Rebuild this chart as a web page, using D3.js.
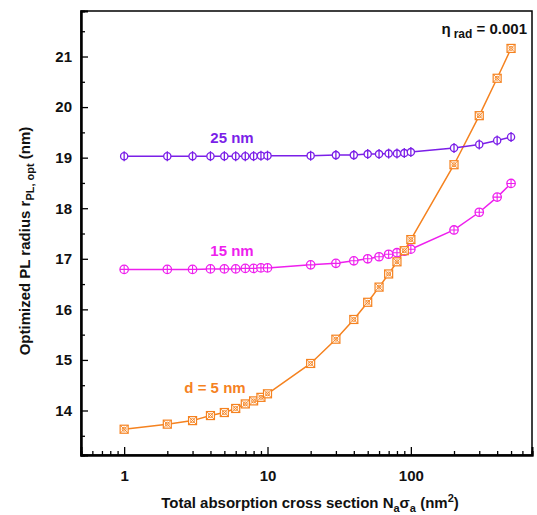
<!DOCTYPE html>
<html><head><meta charset="utf-8">
<script src="https://cdn.jsdelivr.net/npm/d3@7"></script>
<style>
body{margin:0;background:#fff;}
text{font-family:"Liberation Sans",Arial,sans-serif;font-weight:bold;}
</style></head>
<body><svg id="c" width="537" height="515"></svg>
<script>
const xValues = [1,2,3,4,5,6,7,8,9,10,20,30,40,50,60,70,80,90,100,200,300,400,500];
const d5  = [13.63,13.73,13.80,13.90,13.96,14.04,14.13,14.19,14.26,14.33,14.93,15.41,15.80,16.14,16.44,16.70,16.94,17.16,17.38,18.86,19.83,20.57,21.16];
const d15 = [16.79,16.79,16.79,16.80,16.80,16.80,16.81,16.81,16.82,16.82,16.88,16.91,16.96,17.00,17.04,17.09,17.12,17.15,17.19,17.57,17.92,18.22,18.49];
const d25 = [19.03,19.03,19.03,19.03,19.03,19.03,19.03,19.03,19.04,19.04,19.04,19.05,19.05,19.07,19.07,19.08,19.08,19.09,19.11,19.19,19.26,19.34,19.41];
const xMajor = [1,10,100];
const xMinor = [0.6,0.7,0.8,0.9,2,3,4,5,6,7,8,9,20,30,40,50,60,70,80,90,200,300,400,500,600,700];
const yMajor = [14,15,16,17,18,19,20,21];
const yMinor = [13.5,14.5,15.5,16.5,17.5,18.5,19.5,20.5,21.5];

const svg = d3.select("#c");
const L=81, R=532, T=11, B=455;
const x = d3.scaleLog().domain([0.5,700]).range([L,R]);
const y = d3.scaleLinear().domain([13.12,21.9]).range([B,T]);

const cPurple="#7b1fe8", cMag="#ee1fee", cOr="#f5821f";

svg.append("rect").attr("x",L).attr("y",T).attr("width",R-L).attr("height",B-T)
  .attr("fill","none").attr("stroke","#000").attr("stroke-width",1.5);

const gx = svg.append("g").attr("transform",`translate(0,${B})`);
gx.call(d3.axisBottom(x).tickValues(xMajor).tickSize(-8).tickPadding(15).tickFormat(d3.format("d")));
const gx2 = svg.append("g").attr("transform",`translate(0,${B})`);
gx2.call(d3.axisBottom(x).tickValues(xMinor).tickSize(-4).tickFormat(""));
const gy = svg.append("g").attr("transform",`translate(${L},0)`);
gy.call(d3.axisLeft(y).tickValues(yMajor).tickSize(-7).tickPadding(9).tickFormat(d3.format("d")));
const gy2 = svg.append("g").attr("transform",`translate(${L},0)`);
gy2.call(d3.axisLeft(y).tickValues(yMinor).tickSize(-4).tickFormat(""));
svg.selectAll(".domain").attr("stroke","#000").attr("stroke-width",2);
svg.selectAll(".tick line").attr("stroke","#000").attr("stroke-width",1.3);
svg.selectAll(".tick text").attr("font-size",15).attr("font-weight","bold").attr("fill","#111")
  .attr("font-family","Liberation Sans, Arial, sans-serif");

function series(vals,color){
  const pts = xValues.map((xv,i)=>[x(xv),y(vals[i])]);
  svg.append("path").attr("d",d3.line()(pts)).attr("fill","none").attr("stroke",color).attr("stroke-width",1.5);
  return pts;
}
const p5 = series(d5,cOr), p15 = series(d15,cMag), p25 = series(d25,cPurple);

const g25 = svg.append("g");
p25.forEach(([px,py])=>{
  g25.append("circle").attr("cx",px).attr("cy",py).attr("r",3.6).attr("fill","#fff").attr("stroke",cPurple).attr("stroke-width",1.3);
  g25.append("line").attr("x1",px).attr("x2",px).attr("y1",py-5).attr("y2",py+5).attr("stroke",cPurple).attr("stroke-width",1.3);
});
const g15 = svg.append("g");
p15.forEach(([px,py])=>{
  g15.append("circle").attr("cx",px).attr("cy",py).attr("r",4.2).attr("fill","#fff").attr("stroke",cMag).attr("stroke-width",1.3);
  g15.append("path").attr("d",`M${px-4.2},${py}H${px+4.2}M${px},${py-4.2}V${py+4.2}`).attr("stroke",cMag).attr("stroke-width",1.1);
});
const g5 = svg.append("g");
p5.forEach(([px,py])=>{
  const s=4;
  g5.append("rect").attr("x",px-s).attr("y",py-s).attr("width",2*s).attr("height",2*s).attr("fill","#fff").attr("stroke",cOr).attr("stroke-width",1.2);
  g5.append("path").attr("d",`M${px-s},${py-s}L${px+s},${py+s}M${px+s},${py-s}L${px-s},${py+s}`).attr("stroke",cOr).attr("stroke-width",0.9);
  g5.append("circle").attr("cx",px).attr("cy",py).attr("r",2).attr("fill","none").attr("stroke",cOr).attr("stroke-width",0.9);
});

svg.append("text").attr("x",232).attr("y",143).attr("text-anchor","middle").attr("font-size",15).attr("fill",cPurple).text("25 nm");
svg.append("text").attr("x",232).attr("y",256).attr("text-anchor","middle").attr("font-size",15).attr("fill",cMag).text("15 nm");
svg.append("text").attr("x",215).attr("y",393).attr("text-anchor","middle").attr("font-size",15).attr("fill",cOr).text("d = 5 nm");

const et = svg.append("text").attr("x",527).attr("y",34).attr("text-anchor","end").attr("font-size",15).attr("fill","#111");
et.append("tspan").text("η");
et.append("tspan").attr("font-size",12).attr("dy",4).attr("dx",3).text("rad");
et.append("tspan").attr("dy",-4).text(" = 0.001");

const xl = svg.append("text").attr("x",310).attr("y",508).attr("text-anchor","middle").attr("font-size",15).attr("fill","#111");
xl.append("tspan").text("Total absorption cross section N");
xl.append("tspan").attr("font-size",11).attr("dy",4).text("a");
xl.append("tspan").attr("dy",-4).text("σ");
xl.append("tspan").attr("font-size",11).attr("dy",4).text("a");
xl.append("tspan").attr("dy",-4).text(" (nm");
xl.append("tspan").attr("font-size",11).attr("dy",-6).text("2");
xl.append("tspan").attr("dy",6).text(")");

const yl = svg.append("text").attr("transform","translate(30,241) rotate(-90)").attr("text-anchor","middle").attr("font-size",15).attr("fill","#111");
yl.append("tspan").text("Optimized PL radius r");
yl.append("tspan").attr("font-size",11).attr("dy",4).text("PL, opt");
yl.append("tspan").attr("dy",-4).text("  (nm)");
</script></body></html>
